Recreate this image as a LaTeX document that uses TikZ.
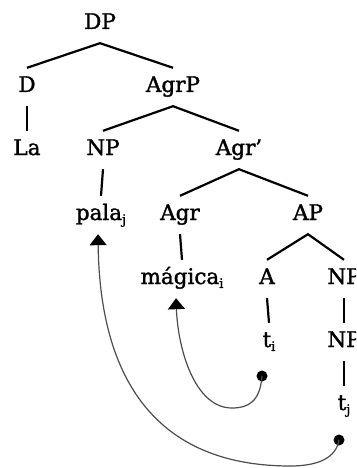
\documentclass[tikz,border=0pt]{standalone}
\usepackage{fontspec}
\setmainfont{DejaVu Serif}[FakeBold=1.5]
\usetikzlibrary{arrows.meta}
\newcommand\idx[1]{\raisebox{-0.35ex}{\fontsize{13}{13}\selectfont #1}}
\begin{document}
\begin{tikzpicture}[x=1pt,y=-1pt,
  lbl/.style={anchor=base,inner xsep=0pt,inner ysep=10pt,text height=14pt,text depth=4pt,font=\fontsize{21.5}{21.5}\selectfont},
  branch/.style={line width=2.2pt,black},
  move/.style={line width=1.2pt,black!70,-{Triangle[width=17pt,length=11pt,color=black]}},
  dot/.style={circle,fill=black,inner sep=0pt,minimum size=11pt}]
\useasboundingbox (0,0) rectangle (356,468);
\clip (0,0) rectangle (356,468);
% row 1
\node[lbl] (DP) at (100,29) {DP};
% row 2
\node[lbl] (D) at (27,92) {D};
\node[lbl] (AgrP) at (173,92) {AgrP};
% row 3
\node[lbl] (La) at (27,155) {La};
\node[lbl] (NP1) at (103,155) {NP};
\node[lbl] (Agrb) at (239,155) {Agr'};
% row 4
\node[lbl] (pala) at (101,220) {pala\idx{j}};
\node[lbl] (Agr) at (180,220) {Agr};
\node[lbl] (AP) at (308,220) {AP};
% row 5
\node[lbl] (magica) at (182,284) {mágica\idx{i}};
\node[lbl] (A) at (267,284) {A};
\node[lbl] (NP2) at (344,284) {NP};
% row 6
\node[lbl] (ti) at (269,347) {t\idx{i}};
\node[lbl] (NP3) at (344,347) {NP};
% row 7
\node[lbl] (tj) at (344,410) {t\idx{j}};
% tree
\draw[branch] (D.north) -- (DP.south) -- (AgrP.north);
\draw[branch] (D.south) -- (La.north);
\draw[branch] (NP1.north) -- (AgrP.south) -- (Agrb.north);
\draw[branch] (NP1.south) -- (pala.north);
\draw[branch] (Agr.north) -- (Agrb.south) -- (AP.north);
\draw[branch] (Agr.south) -- (magica.north);
\draw[branch] (A.north) -- (AP.south) -- (NP2.north);
\draw[branch] (A.south) -- (ti.north);
\draw[branch] (NP2.south) -- (NP3.north);
\draw[branch] (NP3.south) -- (tj.north);
% movement
\node[dot] (d1) at (262,376) {};
\node[dot] (d2) at (339,440) {};
\draw[move] (d1.center) .. controls (260,402) and (248,408) .. (232,408)
  .. controls (195,408) and (178,350) .. ([xshift=-6pt]magica.south);
\draw[move] (d2.center) .. controls (336,458) and (318,466) .. (290,466)
  .. controls (165,466) and (100,390) .. ([xshift=-3pt]pala.south);
\end{tikzpicture}
\end{document}
